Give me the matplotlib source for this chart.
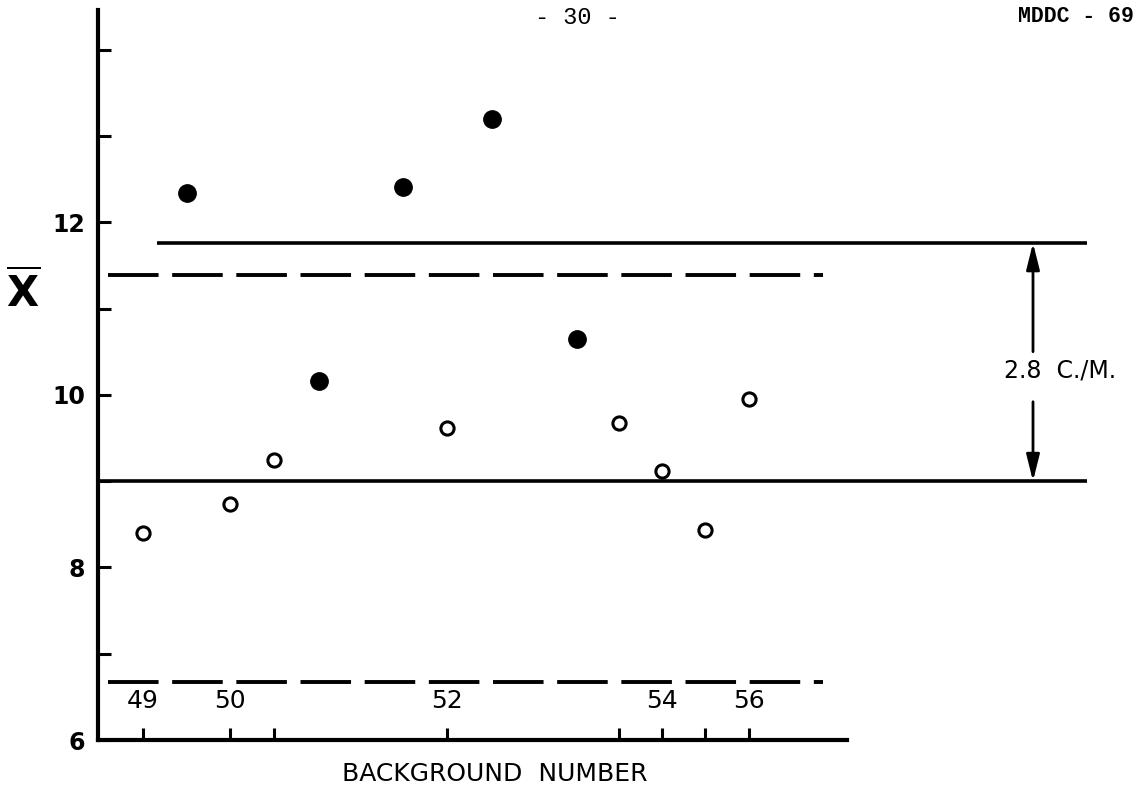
import numpy as np
import matplotlib.pyplot as plt

# x positions are in arbitrary "run" units, the way the sheet spaces the backgrounds
bg_pos = [4.5, 13.2, 17.6, 34.9, 52.1, 56.4, 60.7, 65.1]
bg_labels = ['49', '50', '', '52', '', '54', '', '56']

# open circles sit on the background ticks
open_y = [8.40, 8.73, 9.24, 9.62, 9.67, 9.12, 8.43, 9.95]

# filled circles in between
filled_x = [8.9, 22.1, 30.5, 39.4, 47.9]
filled_y = [12.34, 10.16, 12.41, 13.20, 10.65]

solid_levels = [11.76, 9.00]
dashed_levels = [11.39, 6.67]
band_text = '2.8  C./M.'

yticks = [6, 7, 8, 9, 10, 11, 12, 13, 14]
ylabels = ['6', '', '8', '', '10', '', '12', '', '']

fig = plt.figure(figsize=(11.4, 7.87), dpi=100)
ax = fig.add_axes([98/1140, 47/787, 1042/1140, 730/787])
ax.set_xlim(0, 104.2)
ax.set_ylim(6, 14.46)

# reference lines
ax.hlines(solid_levels[0], 5.9, 98.9, color='black', lw=2.6)
ax.hlines(solid_levels[1], 0, 98.9, color='black', lw=2.6)
for lev in dashed_levels:
    ax.plot([1.0, 72.5], [lev, lev], color='black', lw=2.8, dashes=(13, 3.5))

# points
ax.plot(bg_pos, open_y, 'o', ms=9.5, mfc='white', mec='black', mew=2.2)
ax.plot(filled_x, filled_y, 'o', ms=12.5, color='black')

# spines / ticks
for s in ['top', 'right']:
    ax.spines[s].set_visible(False)
ax.spines['left'].set_linewidth(3)
ax.spines['bottom'].set_linewidth(3)
ax.spines['bottom'].set_bounds(0, 74.9)

ax.set_yticks(yticks)
ax.set_yticklabels(ylabels, fontsize=17, fontweight='bold')
ax.tick_params(axis='y', direction='in', length=9, width=2.2, pad=9)

ax.set_xticks(bg_pos)
ax.set_xticklabels(bg_labels, fontsize=18)
ax.tick_params(axis='x', direction='in', length=9, width=2.2, pad=-37)

ax.text(39.7, -0.047, 'BACKGROUND  NUMBER', transform=ax.get_xaxis_transform(),
        ha='center', va='center', fontsize=18)

fig.text(23/1140, 1 - 293/787, r'$\overline{\mathbf{X}}$', fontsize=30,
         ha='center', va='center')

# the 2.8 c/m band arrow
xa = 93.5
ax.annotate('', xy=(xa, solid_levels[0]), xytext=(xa, 10.50),
            arrowprops=dict(arrowstyle='-|>,head_length=0.8,head_width=0.2',
                            color='black', lw=2, mutation_scale=20,
                            shrinkA=0, shrinkB=0))
ax.annotate('', xy=(xa, solid_levels[1]), xytext=(xa, 9.92),
            arrowprops=dict(arrowstyle='-|>,head_length=0.8,head_width=0.2',
                            color='black', lw=2, mutation_scale=20,
                            shrinkA=0, shrinkB=0))
ax.text(96.2, 10.28, band_text, ha='center', va='center', fontsize=17)

# page header
fig.text(577/1140, 1 - 17/787, '- 30 -', family='Liberation Mono', fontsize=17,
         ha='center', va='center')
fig.text(1018/1140, 1 - 16/787, 'MDDC - 69', family='Liberation Mono',
         fontweight='bold', fontsize=15.5, ha='left', va='center')

fig.savefig('out.png', dpi=100)
